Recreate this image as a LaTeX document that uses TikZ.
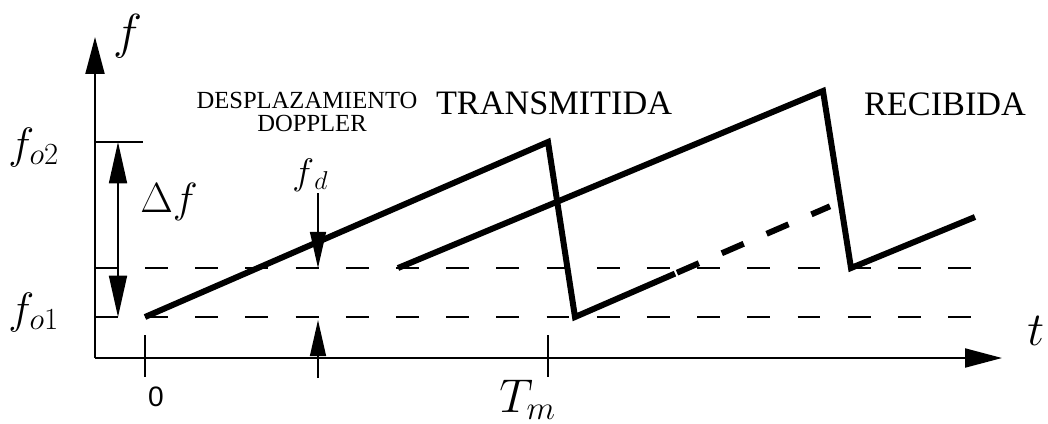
\RequirePackage{fix-cm}
\documentclass[tikz,border=0pt]{standalone}
\usepackage{fontspec}
\setmainfont{Liberation Serif}
\newfontfamily\sansnum{Liberation Sans}
\usetikzlibrary{arrows.meta}
\begin{document}
\begin{tikzpicture}[x=0.02cm,y=-0.02cm,
 thinline/.style={line width=1.1pt},
 sawline/.style={line width=3.4pt},
 guide/.style={line width=1pt, dash pattern=on 13.04pt off 15.53pt},
 sawdash/.style={line width=3.4pt, dash pattern=on 13.6pt off 14.2pt},
 axtip/.style={-{Triangle[length=21pt,width=10.8pt]}},
 dtip/.style={{Triangle[length=23.5pt,width=10.2pt]}-{Triangle[length=23.5pt,width=10.2pt]}},
 fdtip/.style={-{Triangle[length=20.5pt,width=9pt]}},
 lbl/.style={inner sep=0pt},
 caps/.style={inner sep=0pt, font=\fontsize{19.5}{20}\selectfont},
 small/.style={inner sep=0pt, font=\fontsize{14}{15}\selectfont},
]
\useasboundingbox (0,0) rectangle (1048,423);

% coordinates
\coordinate (O) at (95,358);
\coordinate (ytip) at (95,37);
\coordinate (xtip) at (1002,358);
\coordinate (fo2a) at (95,142);
\coordinate (fo2b) at (143,142);
\coordinate (mida) at (95,268);
\coordinate (midb) at (118,268);
\coordinate (lowa) at (95,317);
\coordinate (lowb) at (118,317);
\coordinate (dtop) at (118,142);
\coordinate (dbot) at (118,317);
\coordinate (gm1) at (145,268);
\coordinate (gm2) at (977,268);
\coordinate (gl1) at (145,317);
\coordinate (gl2) at (977,317);
\coordinate (t0a) at (145,335);
\coordinate (t0b) at (145,377);
\coordinate (tma) at (548,335);
\coordinate (tmb) at (548,377);
\coordinate (fd1) at (318,193);
\coordinate (fd2) at (318,268);
\coordinate (fd3) at (318,378);
\coordinate (fd4) at (318,320);
% transmitted
\coordinate (T1) at (145,317);
\coordinate (T2) at (548,142);
\coordinate (T3) at (575,317);
\coordinate (T4) at (675,273.6);
\coordinate (T5) at (677,272.7);
\coordinate (T6) at (830,206.3);
% received
\coordinate (R1) at (398,268);
\coordinate (R2) at (823,91);
\coordinate (R3) at (851,268);
\coordinate (R4) at (975,217);

% axes
\draw[thinline, axtip] (O) -- (ytip);
\draw[thinline, axtip] (O) -- (xtip);

% reference lines
\draw[thinline] (fo2a) -- (fo2b);
\draw[thinline] (mida) -- (midb);
\draw[thinline] (lowa) -- (lowb);
\draw[guide] (gm1) -- (gm2);
\draw[guide] (gl1) -- (gl2);

% ticks
\draw[thinline] (t0a) -- (t0b);
\draw[thinline] (tma) -- (tmb);

% delta f
\draw[thinline, dtip] (dtop) -- (dbot);

% doppler arrows
\draw[thinline, fdtip] (fd1) -- (fd2);
\draw[thinline, fdtip] (fd3) -- (fd4);

% sawtooth lines
\draw[sawline] (T1) -- (T2) -- (T3) -- (T4);
\draw[sawdash] (T5) -- (T6);
\draw[sawline] (R1) -- (R2) -- (R3) -- (R4);

% labels
\node[lbl, anchor=base west, font=\fontsize{28}{28}\selectfont] (lf) at (113,48) {$f$};
\node[lbl, anchor=base west, font=\fontsize{25}{25}\selectfont] (lfo2) at (8,158) {$f_{o2}$};
\node[lbl, anchor=base west, font=\fontsize{25}{25}\selectfont] (lfo1) at (8,323) {$f_{o1}$};
\node[lbl, anchor=base west, font=\fontsize{24}{24}\selectfont] (ldf) at (140,212) {$\Delta f$};
\node[lbl, anchor=base west, font=\fontsize{21}{21}\selectfont] (lfd) at (292,184) {$f_{\,d}$};
\node[lbl, anchor=base west, font=\fontsize{27}{27}\selectfont] (ltm) at (499,412) {$T_m$};
\node[lbl, anchor=base west, font=\fontsize{27}{27}\selectfont] (lt) at (1027,345) {$t$};
\node[lbl, font=\sansnum\fontsize{16}{16}\selectfont] (l0) at (156,397) {0};
\node[small] (ldes) at (307,100) {DESPLAZAMIENTO};
\node[small] (ldop) at (312,123) {DOPPLER};
\node[caps] (ltx) at (554,103) {TRANSMITIDA};
\node[caps] (lrx) at (945,104) {RECIBIDA};
\end{tikzpicture}
\end{document}
